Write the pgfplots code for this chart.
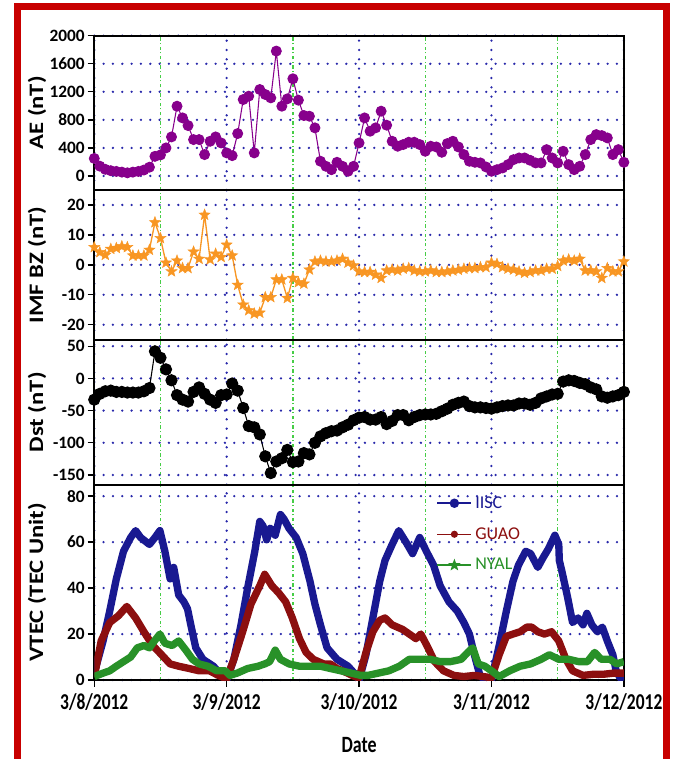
\documentclass[border=0pt]{standalone}
\usepackage{pgfplots}
\usepackage{pgfplotstable}
\pgfplotsset{compat=1.18}
\usepackage{fontspec}
\setmainfont{Carlito}
\newfontfamily\narrowf{Carlito}[FakeStretch=0.77]
\newfontfamily\widef{Carlito}[FakeStretch=1.2]

\definecolor{framered}{RGB}{200,0,0}
\definecolor{gridblue}{RGB}{40,40,170}
\definecolor{gridgreen}{RGB}{70,205,70}
\definecolor{aecol}{RGB}{135,0,140}
\definecolor{bzcol}{RGB}{248,150,35}
\definecolor{iisc}{RGB}{25,25,145}
\definecolor{guao}{RGB}{140,15,15}
\definecolor{nyal}{RGB}{40,145,40}

% filled five-pointed star
\pgfdeclareplotmark{fstar}{%
  \pgfpathmoveto{\pgfpointpolar{90}{\pgfplotmarksize}}%
  \pgfpathlineto{\pgfpointpolar{126}{0.42\pgfplotmarksize}}%
  \pgfpathlineto{\pgfpointpolar{162}{\pgfplotmarksize}}%
  \pgfpathlineto{\pgfpointpolar{198}{0.42\pgfplotmarksize}}%
  \pgfpathlineto{\pgfpointpolar{234}{\pgfplotmarksize}}%
  \pgfpathlineto{\pgfpointpolar{270}{0.42\pgfplotmarksize}}%
  \pgfpathlineto{\pgfpointpolar{306}{\pgfplotmarksize}}%
  \pgfpathlineto{\pgfpointpolar{342}{0.42\pgfplotmarksize}}%
  \pgfpathlineto{\pgfpointpolar{18}{\pgfplotmarksize}}%
  \pgfpathlineto{\pgfpointpolar{54}{0.42\pgfplotmarksize}}%
  \pgfpathclose
  \pgfusepathqfillstroke
}

% hourly AE index (nT), hours from 3/8/2012 00 UT
\pgfplotstableread{
h v
0 250
1 140
2 95
3 75
4 65
5 55
6 45
7 55
8 65
9 85
10 125
11 280
12 300
13 400
14 557
15 995
16 828
17 719
18 519
19 519
20 305
21 495
22 557
23 471
24 329
25 290
26 605
27 1090
28 1138
29 329
30 1233
31 1162
32 1114
33 1781
34 995
35 1100
36 1386
37 1081
38 862
39 852
40 686
41 210
42 138
43 90
44 195
45 138
46 67
47 138
48 471
49 828
50 638
51 686
52 924
53 724
54 495
55 424
56 448
57 481
58 481
59 448
60 352
61 424
62 414
63 338
64 462
65 495
66 414
67 305
68 210
69 195
70 186
71 129
72 67
73 90
74 114
75 162
76 233
77 257
78 257
79 224
80 186
81 186
82 376
83 257
84 186
85 352
86 162
87 90
88 138
89 305
90 519
91 590
92 576
93 543
94 305
95 376
96 195
}\aedata

% hourly IMF Bz (nT)
\pgfplotstableread{
h v
0 5.9
1 4.2
2 3.3
3 5.3
4 5.6
5 6.2
6 5.9
7 3.1
8 3.1
9 3.1
10 5.0
11 14.2
12 8.9
13 0.7
14 -2.2
15 1.4
16 -1.1
17 -1.1
18 4.4
19 2.0
20 16.7
21 1.8
22 3.7
23 2.6
24 6.7
25 3.1
26 -6.7
27 -13.3
28 -15.2
29 -16.3
30 -16.0
31 -10.8
32 -10.8
33 -4.9
34 -4.9
35 -11.1
36 -4.4
37 -5.8
38 -6.3
39 -1.6
40 1.1
41 1.4
42 1.1
43 1.1
44 1.4
45 2.0
46 0.7
47 -0.2
48 -2.2
49 -2.4
50 -2.4
51 -3.3
52 -4.4
53 -1.9
54 -1.6
55 -1.9
56 -1.3
57 -1.1
58 -1.9
59 -2.2
60 -2.2
61 -1.9
62 -2.4
63 -2.4
64 -2.2
65 -1.9
66 -1.7
67 -1.3
68 -1.1
69 -1.1
70 -0.8
71 -0.8
72 0.7
73 0.3
74 -0.8
75 -1.3
76 -1.6
77 -2.2
78 -2.7
79 -2.4
80 -1.9
81 -1.9
82 -1.3
83 -1.3
84 -0.4
85 1.4
86 1.8
87 1.4
88 2.0
89 -1.9
90 -1.9
91 -2.2
92 -4.4
93 -1.1
94 -2.2
95 -2.2
96 1.1
}\bzdata

% hourly Dst index (nT)
\pgfplotstableread{
h v
0 -33
1 -24
2 -20
3 -19
4 -21
5 -21
6 -22
7 -22
8 -22
9 -20
10 -15
11 42
12 32
13 14
14 -3
15 -26
16 -33
17 -36
18 -21
19 -14
20 -24
21 -33
22 -38
23 -26
24 -25
25 -8
26 -19
27 -46
28 -74
29 -76
30 -87
31 -121
32 -147
33 -129
34 -124
35 -111
36 -130
37 -129
38 -116
39 -118
40 -100
41 -90
42 -85
43 -82
44 -81
45 -76
46 -72
47 -65
48 -61
49 -60
50 -64
51 -64
52 -60
53 -71
54 -66
55 -57
56 -57
57 -65
58 -60
59 -57
60 -56
61 -56
62 -55
63 -51
64 -47
65 -41
66 -38
67 -36
68 -43
69 -45
70 -45
71 -46
72 -47
73 -45
74 -43
75 -42
76 -42
77 -39
78 -39
79 -41
80 -38
81 -31
82 -28
83 -25
84 -24
85 -5
86 -3
87 -4
88 -7
89 -9
90 -14
91 -17
92 -28
93 -30
94 -28
95 -26
96 -21
}\dstdata

% vertical TEC (TECU)
\pgfplotstableread{
h v
0 3
1.6 17
2.8 30
4 44
5.3 56
6.6 62
7.5 65
8.4 62
10 59
11 62
11.9 65
12.8 56
13.75 44
14.4 49
15.3 37
16.25 34
16.9 31
17.5 24
18.4 14
19.7 9
21.6 6
23.1 2
24 0
25.3 9
26.6 24
27.8 40
29.1 56
30 69
30.6 67
31.25 61
31.9 66
32.8 63
33.75 72
34.4 70
35.3 66
36.6 62
37.8 55
39.1 43
40 33
41 24
42.2 14
44 9
46 6
47.5 2
48 0
49.25 11
50.5 27
51.75 43
52.7 52
54 59
55.2 65
56.5 60
57.7 55
59 62
60.2 56
61.5 50
62.7 41
64.3 34
65.8 30
67 25
68 20
68.9 11
69.9 2
70.8 0
72 0
73.4 15
74.7 30
75.9 43
76.9 50
78.2 56
79.1 55
80.4 49
81.3 53
82.3 57
83.5 63
84.2 59
84.3 52
84.8 47
85.8 36
86.7 25
87.7 27
88.6 24
89.3 29
90.2 24
91.2 21
92.1 23
93 17
94 11
94.6 4
95.3 1
96 0
}\iiscdata

\pgfplotstableread{
h v
0 1.5
1.25 17
2.8 25
4.4 28
5.9 32
7.5 27
9 21
10.6 15
12.2 11
13.75 7
15.3 6
17.2 5
19 4
20.9 4
22.5 2
24 0.5
25.3 9
26.9 21
28.4 33
30 41
30.9 46
32.2 41
33.4 38
34.7 34
35.9 27
37.2 18
38.4 12
39.7 9
41.6 7
42.8 7
44 5
45.9 3
47.2 1.5
48 1
49.25 12
50.5 21
51.75 26
52.7 27
54 24
55.9 22
57.1 20
58.3 18
59.2 20
60.5 14
61.7 8
63.3 4
65.2 2
67 1.5
68.9 2
70.5 1.5
72 1
73.4 11
74.7 19
75.9 20
77.2 21
78.4 23
79.3 23
80.4 21
81.6 20
82.9 21
84.2 17
85.5 9
86.7 4
88.6 2
90.5 2.5
92.3 2.5
94.2 3
96 3
}\guaodata

\pgfplotstableread{
h v
0 1.5
1.6 3
2.8 4
4 6
5.3 8
6.6 10
7.8 14
9 15
10 14
10.9 17
11.9 20
12.8 16
14.1 15
15.3 17
16.6 13
17.8 9
19 7
20.6 6
22.2 4
23.75 4
24.6 2
25.9 3
27.8 5
29.7 6
30.9 7
31.8 8
32.8 13
33.75 9
35.3 7
37.2 6
39.1 6
41 6
42.8 5
44.7 4
46.6 3
48.3 2
49.6 2
51.5 3
53.4 4
55.3 6
57.1 9
59 9
60.9 9
62.7 8
64.6 8
66.5 9
67.7 12
68.6 14
69.6 7
70.8 6
72 4
73.4 1.5
75.3 4
77.2 6
79.1 7
81 9
82.5 11
84.2 9
86 9
87.8 8
89.4 8
90.7 12
91.9 9
93.5 9
94.7 7
96 8
}\nyaldata

\pgfplotsset{
  panel/.style={
    scale only axis, width=397.2pt,
    xmin=0, xmax=96,
    xtick={0,24,48,72,96}, minor xtick={12,36,60,84},
    xmajorgrids, xminorgrids, ymajorgrids,
    major grid style={gridblue, line width=1.9pt, dash pattern=on 0pt off 7pt, line cap=round},
    minor grid style={gridgreen, line width=1pt, dash pattern=on 2.6pt off 1.8pt on 0.8pt off 1.8pt},
    axis line style={line width=1.7pt},
    tick align=outside, xtick pos=left, ytick pos=left,
    major tick length=5pt, minor tick length=0pt,
    every tick/.style={black, line width=1pt},
    yticklabel style={font=\bfseries\fontsize{13}{15}\selectfont, inner sep=2pt},
    every axis y label/.style={at={(axis description cs:-0.108,0.5)}, rotate=90, anchor=center,
      font=\widef\bfseries\fontsize{15.4}{17}\selectfont},
    anchor=north west,
  },
  upper/.style={panel, xticklabels={}, xtick style={draw=none}},
}

\begin{document}
\begin{tikzpicture}
\useasboundingbox (0,0) rectangle (504pt,-569.25pt);
\clip (0,0) rectangle (504pt,-569.25pt);

% AE
\begin{axis}[upper, at={(70.7pt,-26.8pt)}, height=115.7pt,
  ymin=-200, ymax=2000, ytick={0,400,800,1200,1600,2000},
  yticklabels={0,400,800,1200,1600,2000}, ylabel={AE (nT)}]
\addplot[aecol, line width=0.8pt, mark=*, mark size=3.7pt,
  mark options={fill=aecol, draw=aecol}] table[x=h, y=v] {\aedata};
\end{axis}

% IMF Bz
\begin{axis}[upper, at={(70.7pt,-142.5pt)}, height=112.3pt,
  ymin=-25, ymax=25, ytick={-20,-10,0,10,20},
  yticklabels={-20,-10,0,10,20}, ylabel={IMF BZ (nT)}]
\addplot[bzcol, line width=1pt, mark=fstar, mark size=4.4pt,
  mark options={fill=bzcol, draw=bzcol, line width=0.3pt}] table[x=h, y=v] {\bzdata};
\end{axis}

% Dst
\begin{axis}[upper, at={(70.7pt,-254.8pt)}, height=108.7pt,
  ymin=-165, ymax=60, ytick={-150,-100,-50,0,50},
  yticklabels={-150,-100,-50,0,50}, ylabel={Dst (nT)}]
\addplot[black, line width=0.8pt, mark=*, mark size=4.2pt,
  mark options={fill=black}] table[x=h, y=v] {\dstdata};
\end{axis}

% VTEC
\begin{axis}[panel, at={(70.7pt,-363.5pt)}, height=146.5pt,
  ymin=0, ymax=85, ytick={0,20,40,60,80},
  yticklabels={0,20,40,60,80}, ylabel={VTEC (TEC Unit)},
  xticklabels={3/8/2012,3/9/2012,3/10/2012,3/11/2012,3/12/2012},
  xticklabel style={font=\narrowf\bfseries\fontsize{17}{19}\selectfont, yshift=-2pt},
  xlabel={Date},
  every axis x label/.style={at={(axis description cs:0.5,-0.333)}, anchor=center,
    font=\narrowf\bfseries\fontsize{17.5}{19}\selectfont},
  legend style={at={(axis description cs:0.645,0.955)}, anchor=north west,
    draw=none, fill=none, font=\fontsize{13.5}{15}\selectfont,
    row sep=9pt, inner sep=0pt},
  legend cell align=left,
  legend image code/.code={\draw[mark repeat=2,mark phase=2]
    plot coordinates {(0cm,0cm) (0.45cm,0cm) (0.9cm,0cm)};},
]
\addplot[iisc, line width=5.5pt, line join=round, forget plot] table[x=h, y=v] {\iiscdata};
\addplot[guao, line width=5.5pt, line join=round, forget plot] table[x=h, y=v] {\guaodata};
\addplot[nyal, line width=5.5pt, line join=round, forget plot] table[x=h, y=v] {\nyaldata};
\addlegendimage{iisc, line width=1.8pt, mark=*, mark size=2.6pt, mark options={fill=iisc}}
\addlegendentry{\textcolor{iisc}{IISC}}
\addlegendimage{guao, line width=0.9pt, mark=*, mark size=2.2pt, mark options={fill=guao}}
\addlegendentry{\textcolor{guao}{GUAO}}
\addlegendimage{nyal, line width=1.6pt, mark=fstar, mark size=2.6pt, mark options={fill=nyal}}
\addlegendentry{\textcolor{nyal}{NYAL}}
\end{axis}

% outer frame
\draw[framered, line width=5.25pt] (13.1pt,-600pt) -- (13.1pt,-5.25pt) -- (499.9pt,-5.25pt) -- (499.9pt,-600pt);
\end{tikzpicture}
\end{document}
